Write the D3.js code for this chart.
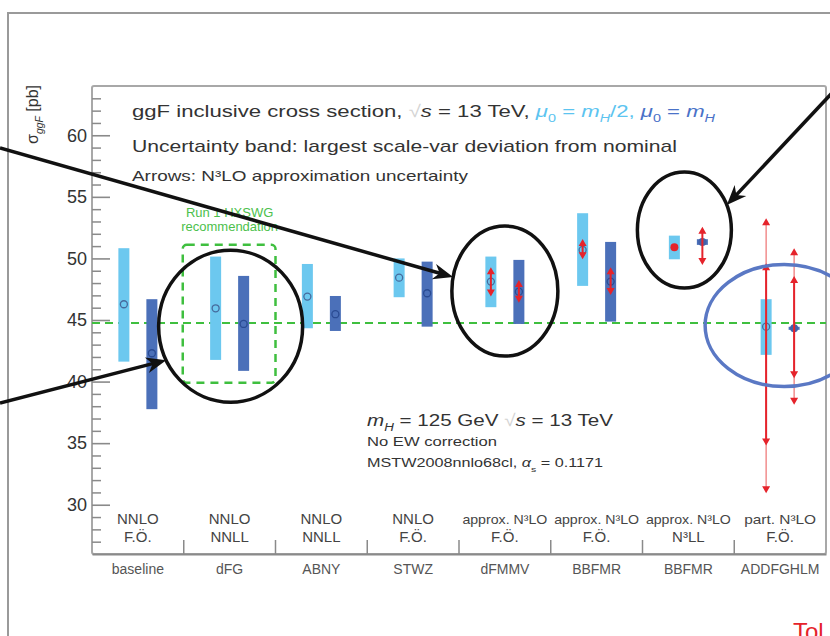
<!DOCTYPE html>
<html>
<head>
<meta charset="utf-8">
<script src="https://cdn.jsdelivr.net/npm/d3@7"></script>
<style>
  html, body { margin: 0; padding: 0; background: #fff; }
  svg { display: block; font-family: "Liberation Sans", Arial, Helvetica, sans-serif; }
</style>
</head>
<body>
<svg width="830" height="636"></svg>
<script>
// Calculation names (below the axis) and their perturbative order (two lines inside the frame)
const generators = ["baseline", "dFG", "ABNY", "STWZ", "dFMMV", "BBFMR", "BBFMR", "ADDFGHLM"];
const orderTop = ["NNLO", "NNLO", "NNLO", "NNLO", "approx. N³LO", "approx. N³LO", "approx. N³LO", "part. N³LO"];
const orderBottom = ["F.Ö.", "NNLL", "NNLL", "F.Ö.", "F.Ö.", "F.Ö.", "N³LL", "F.Ö."];

// mu0 = mH/2 (light blue), sigma in pb
const halfCentral = [46.28, 45.95, 46.9, 48.44, 48.12, 50.69, 50.91, 44.46];
const halfLow = [41.62, 41.76, 44.33, 46.85, 46.04, 47.77, 49.93, 42.17];
const halfHigh = [50.83, 50.15, 49.55, 50.0, 50.15, 53.67, 51.85, 46.69];
const halfMarker = ["o", "o", "o", "o", "o", "o", "•", "o"];

// mu0 = mH (dark blue)
const fullCentral = [42.3, 44.68, 45.47, 47.17, 47.3, 48.12, 51.33, 44.33];
const fullLow = [37.76, 40.87, 44.11, 44.46, 44.68, 44.87, 51.1, 44.2];
const fullHigh = [46.69, 48.58, 46.95, 49.74, 49.88, 51.34, 51.56, 44.45];
const fullMarker = ["o", "o", "o", "o", "o", "o", "•", "•"];

// N3LO approximation uncertainty (red double arrows)
const approxCat = [4, 4, 5, 5, 6, 7, 7, 7, 7];
const approxScale = ["half", "full", "half", "full", "full", "half", "half", "full", "full"];
const approxLow = [46.9, 46.41, 49.93, 47.04, 49.47, 30.94, 34.8, 38.11, 40.27];
const approxHigh = [49.29, 48.25, 51.58, 49.29, 52.58, 53.26, 49.6, 50.83, 48.58];
const approxWide = [false, false, false, false, false, true, false, true, false];

// Run 1 HXSWG recommendation
const recommendation = 44.75;
const recoCat = 1;
const recoLow = 39.9;
const recoHigh = 51.1;

const yTicks = [30, 35, 40, 45, 50, 55, 60];

const LIGHT = "#6cc8ef";
const DARK = "#4b70b9";
const RED = "#e5232b";
const GREEN = "#3fbf3f";
const TEXT = "#333";

const svg = d3.select("svg");

const y = d3.scaleLinear().domain([26, 64]).range([554, 86]);
const x = d3.scaleBand().domain(d3.range(generators.length)).range([92, 826]);
const cx = (i, s) => x(i) + x.bandwidth() / 2 + (s === "half" ? -14 : 14);

// outer page frame
svg.append("path")
    .attr("d", "M8,636V13H830")
    .attr("fill", "none")
    .attr("stroke", "#9a9a9a")
    .attr("stroke-width", 2);

// plot frame
svg.append("rect")
    .attr("x", 92).attr("y", 86)
    .attr("width", 734).attr("height", 468)
    .attr("rx", 2)
    .attr("fill", "none")
    .attr("stroke", "#a8a8a8")
    .attr("stroke-width", 2);

// recommendation line and box
svg.append("line")
    .attr("x1", 92).attr("x2", 826)
    .attr("y1", y(recommendation)).attr("y2", y(recommendation))
    .attr("stroke", GREEN)
    .attr("stroke-width", 2)
    .attr("stroke-dasharray", "8,5");

svg.append("rect")
    .attr("x", x(recoCat) - 1)
    .attr("y", y(recoHigh))
    .attr("width", x.bandwidth() + 1)
    .attr("height", y(recoLow) - y(recoHigh))
    .attr("rx", 4)
    .attr("fill", "none")
    .attr("stroke", GREEN)
    .attr("stroke-width", 2.5)
    .attr("stroke-dasharray", "8,6");

const reco = svg.append("text")
    .attr("text-anchor", "middle")
    .attr("fill", "#4cbf4c")
    .attr("font-size", 13);
reco.append("tspan").attr("x", x(recoCat) + x.bandwidth() / 2).attr("y", 217).text("Run 1 HXSWG");
reco.append("tspan").attr("x", x(recoCat) + x.bandwidth() / 2).attr("y", 231).text("recommendation");

// scale-variation bands
const bands = [];
generators.forEach((g, i) => {
    bands.push({ i, s: "half", c: halfCentral[i], lo: halfLow[i], hi: halfHigh[i], m: halfMarker[i] });
    bands.push({ i, s: "full", c: fullCentral[i], lo: fullLow[i], hi: fullHigh[i], m: fullMarker[i] });
});

svg.append("g").selectAll("rect")
    .data(bands.filter(d => d.hi > d.lo))
    .join("rect")
    .attr("x", d => cx(d.i, d.s) - 5.5)
    .attr("width", 11)
    .attr("y", d => y(d.hi))
    .attr("height", d => y(d.lo) - y(d.hi))
    .attr("fill", d => (d.s === "half" ? LIGHT : DARK));

svg.append("g").selectAll("circle")
    .data(bands)
    .join("circle")
    .attr("cx", d => cx(d.i, d.s))
    .attr("cy", d => y(d.c))
    .attr("r", d => (d.m === "•" ? 4 : 3.5))
    .attr("fill", d => {
        if (d.m !== "•") return "none";
        return d.s === "half" ? RED : "#4262aa";
    })
    .attr("stroke", d => {
        if (d.m === "•") return "none";
        return d.s === "half" ? "#456a9c" : "#2a4b93";
    })
    .attr("stroke-width", 1.3);

// red double arrows
const approx = approxCat.map((c, k) => ({
    i: c, s: approxScale[k], lo: approxLow[k], hi: approxHigh[k], wide: approxWide[k],
}));
const ag = svg.append("g");
approx.forEach(d => {
    const px = cx(d.i, d.s);
    const col = d.wide ? "#ef7c7c" : RED;
    const top = y(d.hi);
    const bot = y(d.lo);
    ag.append("line")
        .attr("x1", px).attr("x2", px)
        .attr("y1", top + 3).attr("y2", bot - 3)
        .attr("stroke", col)
        .attr("stroke-width", d.wide ? 1.3 : 2);
    ag.append("path")
        .attr("d", `M${px},${top}L${px - 4},${top + 7}L${px + 4},${top + 7}Z M${px},${bot}L${px - 4},${bot - 7}L${px + 4},${bot - 7}Z`)
        .attr("fill", RED);
});

// axes
const yAxis = svg.append("g").attr("transform", "translate(92,0)")
    .call(d3.axisLeft(y).tickValues(yTicks).tickSize(-18).tickPadding(5));
yAxis.select(".domain").remove();
yAxis.selectAll("line").attr("stroke", "#8a8a8a").attr("stroke-width", 1.6);
yAxis.selectAll("text")
    .attr("font-size", 18)
    .attr("font-family", "'Liberation Sans', Arial, sans-serif")
    .attr("fill", TEXT);

const minor = svg.append("g").attr("transform", "translate(92,0)")
    .call(d3.axisLeft(y).tickValues(d3.range(27, 64).filter(v => v % 5 !== 0)).tickSize(-9).tickFormat(""));
minor.select(".domain").remove();
minor.selectAll("line").attr("stroke", "#8a8a8a").attr("stroke-width", 1.5);

const xAxis = svg.append("g").attr("transform", "translate(0,554)")
    .call(d3.axisBottom(x).tickSize(0).tickPadding(10).tickFormat(i => generators[i]));
xAxis.select(".domain").attr("stroke", "#8a8a8a").attr("stroke-width", 2);
xAxis.selectAll("text")
    .attr("font-size", 14)
    .attr("font-family", "'Liberation Sans', Arial, sans-serif")
    .attr("fill", "#555");

svg.append("g").selectAll("line")
    .data(d3.range(1, generators.length))
    .join("line")
    .attr("x1", i => x(i)).attr("x2", i => x(i))
    .attr("y1", 554).attr("y2", 540)
    .attr("stroke", "#8a8a8a")
    .attr("stroke-width", 1.5);

// order labels
const ol = svg.append("g").attr("text-anchor", "middle").attr("fill", "#444");
generators.forEach((g, i) => {
    const mid = x(i) + x.bandwidth() / 2;
    const t1 = ol.append("text").attr("x", mid).attr("y", 524).attr("font-size", 15).text(orderTop[i]);
    if (orderTop[i].length > 8) t1.attr("font-size", 13).attr("textLength", orderTop[i].startsWith("part") ? 72 : 85).attr("lengthAdjust", "spacingAndGlyphs");
    ol.append("text").attr("x", mid).attr("y", 542).attr("font-size", 15).text(orderBottom[i]);
});

// rich text helper: parts = [text, {fill, italic, sub}]
const rich = (sel, parts) => {
    let shifted = false;
    parts.forEach(([t, o = {}]) => {
        const ts = sel.append("tspan").text(t);
        if (o.fill) ts.attr("fill", o.fill);
        if (o.italic) ts.attr("font-style", "italic");
        if (o.sub && !shifted) { ts.attr("dy", 5).attr("font-size", "0.65em"); shifted = true; }
        else if (o.sub) ts.attr("font-size", "0.65em");
        else if (shifted) { ts.attr("dy", -5); shifted = false; }
    });
    return sel;
};

const LB = "#5cc4f0";
const DB = "#4a72c8";
rich(svg.append("text").attr("x", 132).attr("y", 117).attr("font-size", 17).attr("fill", TEXT)
    .attr("textLength", 583).attr("lengthAdjust", "spacingAndGlyphs"), [
    ["ggF inclusive cross section,  "],
    ["√", { fill: "#d4d4d4" }],
    ["s", { italic: true }],
    [" = 13 TeV,  "],
    ["μ", { fill: LB, italic: true }],
    ["0", { fill: LB, sub: true }],
    [" = ", { fill: LB }],
    ["m", { fill: LB, italic: true }],
    ["H", { fill: LB, italic: true, sub: true }],
    ["/2, ", { fill: LB }],
    ["μ", { fill: DB, italic: true }],
    ["0", { fill: DB, sub: true }],
    [" = ", { fill: DB }],
    ["m", { fill: DB, italic: true }],
    ["H", { fill: DB, italic: true, sub: true }],
]);

svg.append("text").attr("x", 132).attr("y", 152).attr("font-size", 17).attr("fill", TEXT)
    .attr("textLength", 545).attr("lengthAdjust", "spacingAndGlyphs")
    .text("Uncertainty band: largest scale-var deviation from nominal");

svg.append("text").attr("x", 132).attr("y", 181).attr("font-size", 15).attr("fill", TEXT)
    .attr("textLength", 336).attr("lengthAdjust", "spacingAndGlyphs")
    .text("Arrows: N³LO approximation uncertainty");

rich(svg.append("text").attr("x", 367).attr("y", 426).attr("font-size", 17).attr("fill", TEXT)
    .attr("textLength", 246).attr("lengthAdjust", "spacingAndGlyphs"), [
    ["m", { italic: true }],
    ["H", { italic: true, sub: true }],
    [" = 125 GeV   "],
    ["√", { fill: "#d4d4d4" }],
    ["s", { italic: true }],
    [" = 13 TeV"],
]);

svg.append("text").attr("x", 367).attr("y", 446).attr("font-size", 12).attr("fill", TEXT)
    .attr("textLength", 130).attr("lengthAdjust", "spacingAndGlyphs")
    .text("No EW correction");

rich(svg.append("text").attr("x", 367).attr("y", 467).attr("font-size", 12).attr("fill", TEXT)
    .attr("textLength", 236).attr("lengthAdjust", "spacingAndGlyphs"), [
    ["MSTW2008nnlo68cl, "],
    ["α", { italic: true }],
    ["s", { sub: true }],
    [" = 0.1171"],
]);

// y title
rich(svg.append("text").attr("transform", "translate(38,85) rotate(-90)")
    .attr("text-anchor", "end").attr("font-size", 16).attr("fill", TEXT), [
    ["σ"],
    ["ggF", { italic: true, sub: true }],
    [" [pb]"],
]);

// annotation rings and pointers
const rings = [
    { cat: 1, v: 44.5, dx: 1, rx: 72, ry: 76, color: "#111" },
    { cat: 4, v: 47.35, dx: 0, rx: 53, ry: 65, color: "#111" },
    { cat: 6, v: 52.3, dx: -4, rx: 47, ry: 58, color: "#111" },
    { cat: 7, v: 44.55, dx: 4, rx: 79, ry: 61, color: "#5a78c4" },
].map(r => ({ ...r, cx: x(r.cat) + x.bandwidth() / 2 + r.dx, cy: y(r.v) }));

svg.append("g").selectAll("ellipse")
    .data(rings)
    .join("ellipse")
    .attr("cx", d => d.cx).attr("cy", d => d.cy)
    .attr("rx", d => d.rx).attr("ry", d => d.ry)
    .attr("fill", "none")
    .attr("stroke", d => d.color)
    .attr("stroke-width", 3.5);

const pointers = [
    { from: [0, 148], ring: 1, dy: -14, side: -1 },
    { from: [0, 403], ring: 0, dy: 34, side: -1 },
    { from: [832, 93], ring: 2, dy: -25, side: 1 },
];
const pg = svg.append("g");
pointers.forEach(p => {
    const r = rings[p.ring];
    const tx = r.cx + p.side * r.rx * Math.sqrt(1 - (p.dy / r.ry) ** 2);
    const ty = r.cy + p.dy;
    const ang = Math.atan2(ty - p.from[1], tx - p.from[0]);
    const ux = Math.cos(ang);
    const uy = Math.sin(ang);
    pg.append("line")
        .attr("x1", p.from[0]).attr("y1", p.from[1])
        .attr("x2", tx - ux * 12).attr("y2", ty - uy * 12)
        .attr("stroke", "#111")
        .attr("stroke-width", 3.5);
    const pt = (a, b) => [tx + ux * a - uy * b, ty + uy * a + ux * b];
    pg.append("path")
        .attr("d", d3.line()([pt(0, 0), pt(-20, -8), pt(-14, 0), pt(-20, 8)]) + "Z")
        .attr("fill", "#111");
});

svg.append("text")
    .attr("x", 793).attr("y", 640)
    .attr("font-size", 24)
    .attr("fill", RED)
    .text("Tol");
</script>
</body>
</html>
